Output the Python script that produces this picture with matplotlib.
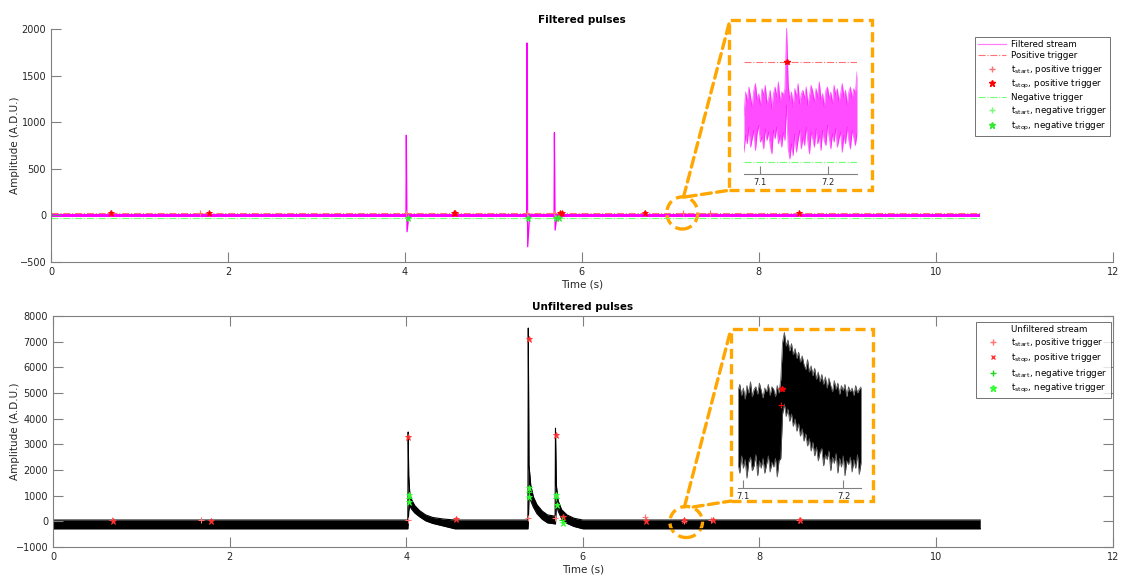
import numpy as np
import matplotlib.pyplot as plt
from matplotlib.patches import Rectangle, Ellipse, ConnectionPatch
from matplotlib.lines import Line2D

plt.rcParams['font.family'] = 'DejaVu Sans'

# ---- Filtered stream (top) ----
filt_end = 10.5
filt_noise = 20
spike_t = [4.016, 5.380, 5.690]
spike_up = [860, 1850, 887]
spike_down = [-175, -336, -157]
pos_trig = 30
neg_trig = -30

f_pos_start_t = [0.67, 1.68, 4.016, 5.38, 5.69, 6.70, 7.14, 7.45, 8.45]
f_pos_stop_t = [0.68, 1.79, 4.55, 4.57, 5.75, 5.78, 6.71, 8.46]
f_neg_start_t = [4.03, 5.39, 5.70, 5.73]
f_neg_stop_t = [4.035, 5.395, 5.705, 5.74]

# zoom window of filtered stream
fz_range = [7.0765, 7.2426]
fz_hi = [-2, 12, 6, 15, 9, 3, 13, 17, 7, 11, 4, 14, 10, 16, 5, 8, 13, 2, 11,
         15, 9, 18, 6, 12, 10, 14,
         50, 16,
         7, 12, 3, 14, 9, 17, 5, 11, 13, 8, 15, 4, 10, 16, 12, 6, 14, 9, 18, 7,
         11, 3, 13, 15, 8, 12, 5, 16, 10, 14, 6, 11, 17, 9, 13, 4, 12, 15, 8,
         14, 11, 24]
fz_lo = [-24, -14, -19, -9, -21, -16, -11, -23, -13, -8, -18, -15, -22, -10,
         -17, -12, -20, -25, -11, -16, -9, -19, -14, -21, -12, -17,
         4, -22,
         -28, -19, -26, -13, -24, -17, -11, -22, -15, -20, -9, -18, -25, -12,
         -16, -21, -10, -19, -14, -23, -11, -17, -20, -8, -15, -22, -13, -18,
         -10, -21, -16, -12, -24, -14, -19, -9, -17, -22, -11, -15, -20, -13]
fz_stop = (7.139, 30)

# ---- Unfiltered stream (bottom) ----
unf_t = [0, 4.018, 4.022, 4.028, 4.04, 4.06, 4.095, 4.15, 4.22, 4.3, 4.42,
         4.55, 5.378, 5.382, 5.39, 5.41, 5.44, 5.48, 5.54, 5.6, 5.686, 5.69,
         5.70, 5.72, 5.76, 5.82, 5.9, 6.0, 10.5]
unf_hi = [50, 50, 3480, 1800, 1100, 850, 620, 420, 250, 150, 90, 50, 50, 7530,
          2200, 1400, 950, 650, 400, 250, 200, 3630, 1400, 800, 450, 250, 120,
          50, 50]
unf_lo = [-290, -290, -100, 400, 600, 480, 330, 180, 20, -80, -180, -290,
          -290, -100, 1000, 800, 550, 300, 80, -60, -100, -100, 700, 400, 100,
          -80, -200, -290, -290]

u_pos_start_t = [0.67, 1.68, 4.018, 5.378, 5.686, 6.70, 7.14, 7.45, 8.45]
u_pos_start_v = [60, 60, 50, 130, 130, 180, 20, 40, 60]
u_pos_stop_t = [0.68, 1.79, 4.024, 4.56, 5.385, 5.694, 5.78, 6.71, 7.15, 7.47, 8.46]
u_pos_stop_v = [30, 30, 3290, 80, 7100, 3360, 170, 0, 40, 40, 60]
u_neg_start_t = [4.03, 5.39, 5.70, 5.76]
u_neg_start_v = [900, 1150, 900, 50]
u_neg_stop_t = [4.028, 4.032, 5.388, 5.392, 5.698, 5.702, 5.77]
u_neg_stop_v = [1030, 760, 1300, 950, 1030, 630, -50]

# zoom window of unfiltered stream
uz_range = [7.0953, 7.2174]
uz_hi = [30, 60, 15, 45, 0, 55, 25, 70, 10, 40, 50, 20, 65, 35, 5, 45, 30, 60,
         15, 50, 40, 10, 55, 25,
         80, 230, 270, 215, 240,
         195, 225, 180, 205, 165, 190, 150, 175, 140, 120, 160, 110, 135, 95,
         125, 80, 110, 70, 100, 60, 90, 45, 85, 55, 30, 75, 40, 65, 20, 55, 35,
         60, 10, 50, 30, 45, 15, 55, 25, 40, 50]
uz_lo = [-260, -300, -230, -280, -245, -320, -255, -235, -290, -270, -225,
         -310, -250, -280, -240, -300, -265, -230, -295, -255, -275, -240,
         -315, -250,
         -240, -60, -20, -70, -40,
         -90, -60, -110, -80, -130, -100, -150, -120, -170, -140, -190, -160,
         -210, -175, -230, -195, -250, -215, -200, -270, -225, -245, -210,
         -290, -235, -260, -220, -300, -240, -275, -230, -310, -250, -265,
         -235, -295, -245, -280, -225, -305, -260]
uz_start = (7.1378, -23)
uz_stop = (7.139, 40)

W, H = 1122, 581
MAGENTA = (1, 0, 1)
ORANGE = (1, 0.65, 0)
GRAY = '0.5'
TXT = '0.15'
RED_L = (1, 0.45, 0.45)
GREEN_L = (0.45, 1, 0.45)

fig = plt.figure(figsize=(W / 100, H / 100), dpi=100)


def fr(x0, y0, x1, y1):
    # pixel box (top-left origin) -> figure fraction rect
    return [x0 / W, 1 - y1 / H, (x1 - x0) / W, (y1 - y0) / H]


def style_axes(ax, box, pad):
    for s in ['left', 'bottom', 'top', 'right']:
        ax.spines[s].set_color(GRAY)
        ax.spines[s].set_linewidth(0.8)
    if not box:
        ax.spines['top'].set_visible(False)
        ax.spines['right'].set_visible(False)
    ax.tick_params(direction='in', length=7, width=0.8, colors=GRAY,
                   labelcolor=TXT, labelsize=7, top=box, right=box)
    ax.set_xlim(0, 12)
    ax.set_xlabel('Time (s)', fontsize=7.5, color=TXT, labelpad=2)
    ax.set_ylabel('Amplitude (A.D.U.)', fontsize=7.5, color=TXT, labelpad=pad)


# ---------------- top panel ----------------
ax1 = fig.add_axes(fr(51, 29, 1112.7, 262))
style_axes(ax1, box=False, pad=0)
ax1.set_ylim(-500, 2000)
ax1.set_yticks(np.arange(-500, 2001, 500))
ax1.set_title('Filtered pulses', fontsize=7.5, fontweight='bold', pad=4)

ax1.fill_between([0, filt_end], [-filt_noise] * 2, [filt_noise] * 2,
                 color=MAGENTA, lw=0)
for t, up, dn in zip(spike_t, spike_up, spike_down):
    ax1.plot([t - 0.004, t, t + 0.008, t + 0.03], [0, up, dn, 0],
             color=MAGENTA, lw=0.9)
ax1.plot([0, filt_end], [pos_trig] * 2, color=RED_L, ls='-.', lw=0.8)
ax1.plot([0, filt_end], [neg_trig] * 2, color=GREEN_L, ls='-.', lw=0.8)
ax1.plot(f_pos_start_t, [pos_trig] * len(f_pos_start_t), '+', color=RED_L, ms=5, mew=0.8)
ax1.plot(f_pos_stop_t, [pos_trig] * len(f_pos_stop_t), '*', color='red', ms=5, mew=0.6)
ax1.plot(f_neg_start_t, [neg_trig] * len(f_neg_start_t), '+', color=GREEN_L, ms=5, mew=0.8)
ax1.plot(f_neg_stop_t, [neg_trig] * len(f_neg_stop_t), '*', color=(0.2, 0.9, 0.2), ms=5, mew=0.6)

h1 = [Line2D([], [], color=(1, 0.5, 1), lw=0.9),
      Line2D([], [], color=RED_L, ls='-.', lw=0.8),
      Line2D([], [], color=RED_L, marker='+', ls='', ms=5),
      Line2D([], [], color='red', marker='*', ls='', ms=5),
      Line2D([], [], color=GREEN_L, ls='-.', lw=0.8),
      Line2D([], [], color=GREEN_L, marker='+', ls='', ms=5),
      Line2D([], [], color=(0.2, 0.9, 0.2), marker='*', ls='', ms=5)]
l1 = ['Filtered stream', 'Positive trigger',
      r'$\mathregular{t_{start}}$, positive trigger',
      r'$\mathregular{t_{stop}}$, positive trigger',
      'Negative trigger',
      r'$\mathregular{t_{start}}$, negative trigger',
      r'$\mathregular{t_{stop}}$, negative trigger']
leg1 = ax1.legend(h1, l1, loc='upper left', bbox_to_anchor=(0.8705, 0.965),
                  fontsize=6.3, frameon=True, fancybox=False, handlelength=3.2,
                  labelspacing=0.25, borderpad=0.35, handletextpad=0.5,
                  borderaxespad=0)
leg1.get_frame().set_edgecolor('0.3')
leg1.get_frame().set_linewidth(0.7)

# ---------------- bottom panel ----------------
ax2 = fig.add_axes(fr(53, 316, 1112.7, 547))
style_axes(ax2, box=True, pad=-3)
ax2.set_ylim(-1000, 8000)
ax2.set_yticks(np.arange(-1000, 8001, 1000))
ax2.set_title('Unfiltered pulses', fontsize=7.5, fontweight='bold', pad=4)

ax2.fill_between(unf_t, unf_lo, unf_hi, color='black', lw=0)
ax2.plot(unf_t, unf_hi, color='black', lw=0.8)
ax2.plot(unf_t, unf_lo, color='black', lw=0.8)
ax2.plot(u_pos_start_t, u_pos_start_v, '+', color=RED_L, ms=5, mew=0.8)
ax2.plot(u_pos_stop_t, u_pos_stop_v, '*', color=(1, 0.2, 0.2), ms=5, mew=0.6)
ax2.plot(u_neg_start_t, u_neg_start_v, '+', color=(0.1, 0.85, 0.1), ms=5, mew=0.8)
ax2.plot(u_neg_stop_t, u_neg_stop_v, '*', color=(0.2, 1, 0.2), ms=5, mew=0.6)

h2 = [Line2D([], [], color='none'),
      Line2D([], [], color=RED_L, marker='+', ls='', ms=5),
      Line2D([], [], color=(1, 0.2, 0.2), marker='x', ls='', ms=3.5),
      Line2D([], [], color=(0.1, 0.85, 0.1), marker='+', ls='', ms=5),
      Line2D([], [], color=(0.2, 1, 0.2), marker='*', ls='', ms=5)]
l2 = ['Unfiltered stream',
      r'$\mathregular{t_{start}}$, positive trigger',
      r'$\mathregular{t_{stop}}$, positive trigger',
      r'$\mathregular{t_{start}}$, negative trigger',
      r'$\mathregular{t_{stop}}$, negative trigger']
leg2 = ax2.legend(h2, l2, loc='upper left', bbox_to_anchor=(0.871, 0.973),
                  fontsize=6.3, frameon=True, fancybox=False, handlelength=3.2,
                  labelspacing=0.25, borderpad=0.35, handletextpad=0.5,
                  borderaxespad=0)
leg2.get_frame().set_edgecolor('0.3')
leg2.get_frame().set_linewidth(0.7)


def style_inset(ax, xr):
    for s in ['left', 'top', 'right']:
        ax.spines[s].set_visible(False)
    ax.spines['bottom'].set_color(GRAY)
    ax.spines['bottom'].set_linewidth(0.8)
    ax.set_yticks([])
    ax.set_xlim(xr)
    ax.set_xticks([7.1, 7.2])
    ax.set_xticklabels(['7.1', '7.2'])
    ax.tick_params(axis='x', direction='in', length=6, width=0.8, colors=GRAY,
                   labelcolor=TXT, labelsize=6, pad=3)
    ax.patch.set_alpha(0)


# ---------------- top inset ----------------
ins1 = fig.add_axes(fr(744, 25, 857, 174))
style_inset(ins1, fz_range)
ins1.set_ylim(-37, 52)
tz1 = np.linspace(fz_range[0], fz_range[1], len(fz_hi))
ins1.fill_between(tz1, fz_lo, fz_hi, color=MAGENTA, alpha=0.7, lw=0)
ins1.plot(tz1, fz_hi, color=MAGENTA, lw=0.6, alpha=0.6)
ins1.plot(tz1, fz_lo, color=MAGENTA, lw=0.6, alpha=0.6)
ins1.plot(fz_range, [pos_trig] * 2, color=RED_L, ls='-.', lw=0.8)
ins1.plot(fz_range, [neg_trig] * 2, color=GREEN_L, ls='-.', lw=0.8)
ins1.plot(*fz_stop, '*', color='red', ms=4)

# ---------------- bottom inset ----------------
ins2 = fig.add_axes(fr(738, 330, 861, 488))
style_inset(ins2, uz_range)
ins2.set_ylim(-360, 280)
tz2 = np.linspace(uz_range[0], uz_range[1], len(uz_hi))
ins2.fill_between(tz2, uz_lo, uz_hi, color='black', lw=0)
ins2.plot(tz2, uz_hi, color='0.35', lw=0.6)
ins2.plot(tz2, uz_lo, color='0.35', lw=0.6)
ins2.plot(*uz_start, '+', color='red', ms=4, mew=0.7)
ins2.plot(*uz_stop, '*', color='red', ms=4)

# ---------------- orange zoom markers ----------------
dash = dict(color=ORANGE, lw=2.4, ls=(0, (3, 1.6)))
for rect in [fr(729, 20, 872, 190), fr(730.5, 329, 873, 501)]:
    fig.add_artist(Rectangle(rect[:2], rect[2], rect[3], transform=fig.transFigure,
                             fill=False, **dash))

ax1.add_patch(Ellipse((7.135, 26), 0.35, 345, fill=False, clip_on=False, **dash))
ax2.add_patch(Ellipse((7.17, -25), 0.37, 1210, fill=False, clip_on=False, **dash))

for ax, pa, pb in [(ax1, (7.15, 200), (730 / W, 1 - 20 / H)),
                   (ax1, (7.18, 200), (731 / W, 1 - 190 / H)),
                   (ax2, (7.15, 560), (731 / W, 1 - 329 / H)),
                   (ax2, (7.25, 560), (731 / W, 1 - 501 / H))]:
    fig.add_artist(ConnectionPatch(pa, pb, coordsA=ax.transData,
                                   coordsB=fig.transFigure, **dash))

fig.savefig('out.png', dpi=100)
